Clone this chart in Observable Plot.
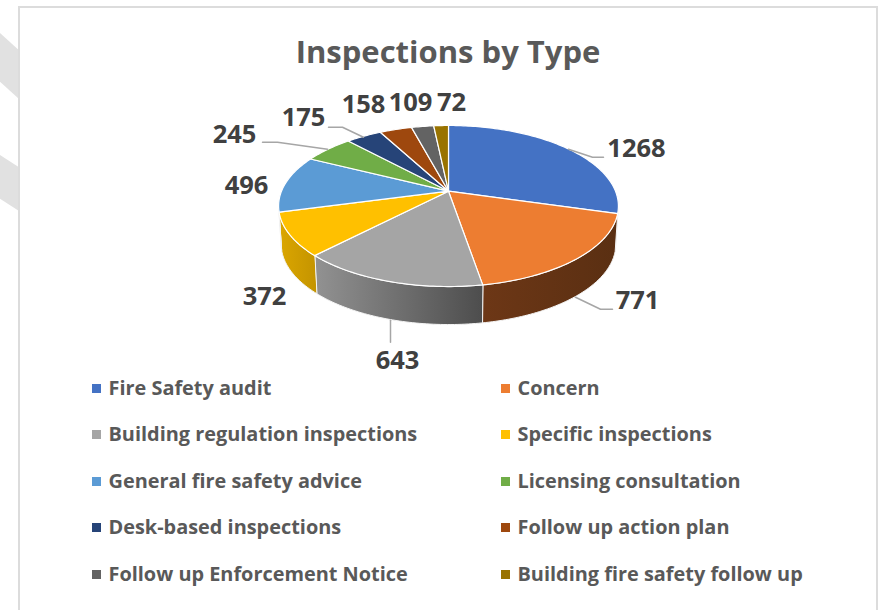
<!DOCTYPE html>
<html><head><meta charset="utf-8">
<script src="https://cdn.jsdelivr.net/npm/d3@7"></script>
<script src="https://cdn.jsdelivr.net/npm/@observablehq/plot@0.6"></script>
<style>
html,body{margin:0;padding:0;background:#fff;overflow:hidden}
#page{position:relative;width:881px;height:610px;font-family:"Open Sans",sans-serif;font-weight:700}
#frame{position:absolute;left:18px;top:6px;width:860px;height:620px;border:2px solid #dcdcdc;box-sizing:border-box}
.band{position:absolute;left:0;width:19px;background:#e1e1e1}
#chart{position:absolute;left:0;top:0}
#title{position:absolute;left:0;width:896px;top:29px;text-align:center;font-size:31px;line-height:44px;color:#595959}
.item{position:absolute;font-size:19.9px;line-height:26px;color:#595959;white-space:nowrap}
.key{position:absolute;width:9px;height:9px}
</style></head><body>
<div id="page">
  <div class="band" style="top:33px;height:66px;clip-path:polygon(0 0,100% 26%,100% 100%,0 74%)"></div>
  <div class="band" style="top:155px;height:56px;clip-path:polygon(0 0,100% 22%,100% 100%,0 78%)"></div>
  <div id="frame"></div>
  <div id="title">Inspections by Type</div>
  <div id="chart"></div>
</div>
<script>
const categories = ["Fire Safety audit","Concern","Building regulation inspections","Specific inspections","General fire safety advice","Licensing consultation","Desk-based inspections","Follow up action plan","Follow up Enforcement Notice","Building fire safety follow up"];
const values = [1268,771,643,372,496,245,175,158,109,72];
const colors = ["#4472C4","#ED7D31","#A5A5A5","#FFC000","#5B9BD5","#70AD47","#264478","#9E480E","#636363","#997300"];
const wallFills = ["#2f5597","url(#w1)","url(#w2)","url(#w3)","#3f74a8","#4e7a32","#1a2f55","#6e320a","#454545","#6b5000"];
// label offsets from the pie centre, in pixels
const labelDx = [188,189,-51,-184,-202,-214,-145,-85,-38,3];
const labelDy = [-42,110,170,106,-5,-56,-73,-86,-88,-88];
// leader lines, in pixels from the pie centre
const leaders = [
  [[120,-42],[144,-34],[155,-34]],
  [[127,106],[152,118],[164,118]],
  [[-58,129],[-58,151]],
  [[-121,-42],[-171,-49],[-186,-49]],
  [[-85,-54],[-106,-64],[-120,-64]]
];

const cx = 448, cy = 190.7, rx = 167, ry = 77.8, persp = 0.184;
const depth = 38 / ry, shrink = 0.985;
const total = d3.sum(values);
const cumulative = d3.cumsum(values);
const turn = t => {
  const a = 2 * Math.PI * t, u = Math.sin(a), v = Math.cos(a), w = 1 + persp * v;
  return {X: u / w, Y: v / w};
};
const arc = (t0, t1) => {
  const n = Math.max(2, Math.ceil((t1 - t0) * 360));
  return d3.range(n + 1).map(i => turn(t0 + (t1 - t0) * i / n));
};
const tops = [], walls = [];
const visible0 = 101 / 360, visible1 = 259 / 360;
values.forEach((val, i) => {
  const t1 = cumulative[i] / total, t0 = t1 - val / total;
  tops.push({name: categories[i], fill: colors[i], X: 0, Y: 0});
  arc(t0, t1).forEach(p => tops.push({name: categories[i], fill: colors[i], ...p}));
  const a = Math.max(t0, visible0), b = Math.min(t1, visible1);
  if (b > a) {
    const rim = arc(a, b);
    rim.forEach(p => walls.push({name: categories[i], fill: wallFills[i], ...p}));
    rim.slice().reverse().forEach(p => walls.push({name: categories[i], fill: wallFills[i], X: p.X * shrink, Y: p.Y - depth}));
  }
});
const leaderPts = leaders.flatMap((l, i) => l.map(([dx, dy]) => ({id: i, X: dx / rx, Y: -dy / ry})));

const defs = () => {
  const ns = "http://www.w3.org/2000/svg";
  const g = document.createElementNS(ns, "g");
  const d = document.createElementNS(ns, "defs");
  [["w1","#6d3716","#5a2f12"],["w2","#929292","#4d4d4d"],["w3","#dba600","#c49400"]].forEach(([id, a, b]) => {
    const lg = document.createElementNS(ns, "linearGradient");
    lg.setAttribute("id", id);
    [[0, a],[1, b]].forEach(([o, c]) => {
      const s = document.createElementNS(ns, "stop");
      s.setAttribute("offset", o); s.setAttribute("stop-color", c);
      lg.appendChild(s);
    });
    d.appendChild(lg);
  });
  g.appendChild(d);
  return g;
};

const chart = Plot.plot({
  width: 881, height: 610,
  margin: 0,
  style: {background: "transparent", fontFamily: "'Open Sans',sans-serif"},
  x: {type: "linear", domain: [-1, 1], range: [cx - rx, cx + rx], axis: null},
  y: {type: "linear", domain: [-1, 1], range: [cy + ry, cy - ry], axis: null},
  color: {type: "identity"},
  marks: [
    defs,
    Plot.line(walls, {x: "X", y: "Y", z: "name", fill: "fill", stroke: "#f4f4f4", strokeWidth: 1, curve: "linear-closed"}),
    Plot.line(tops, {x: "X", y: "Y", z: "name", fill: "fill", stroke: "#fff", strokeWidth: 1.2, curve: "linear-closed"}),
    Plot.line(leaderPts, {x: "X", y: "Y", z: "id", stroke: "#a6a6a6", strokeWidth: 1.5}),
    ...values.map((v, i) => Plot.text([v], {
      x: () => 0, y: () => 0, text: d => String(d), dx: labelDx[i], dy: labelDy[i],
      fontSize: 25.5, fontWeight: 700, fill: "#404040", textAnchor: "middle", lineAnchor: "middle"}))
  ]
});
document.getElementById("chart").appendChild(chart);

const page = document.getElementById("page");
const rowY = [388, 434, 481, 527, 574], keyX = [92, 501], textX = [108.5, 517.5];
categories.forEach((c, i) => {
  const col = i % 2, row = Math.floor(i / 2);
  const k = document.createElement("div");
  k.className = "key";
  k.style.cssText = `left:${keyX[col]}px;top:${rowY[row] - 4.5}px;background:${colors[i]}`;
  const t = document.createElement("div");
  t.className = "item";
  t.style.cssText = `left:${textX[col]}px;top:${rowY[row] - 13}px`;
  t.textContent = c;
  page.append(k, t);
});
</script>
</body></html>
